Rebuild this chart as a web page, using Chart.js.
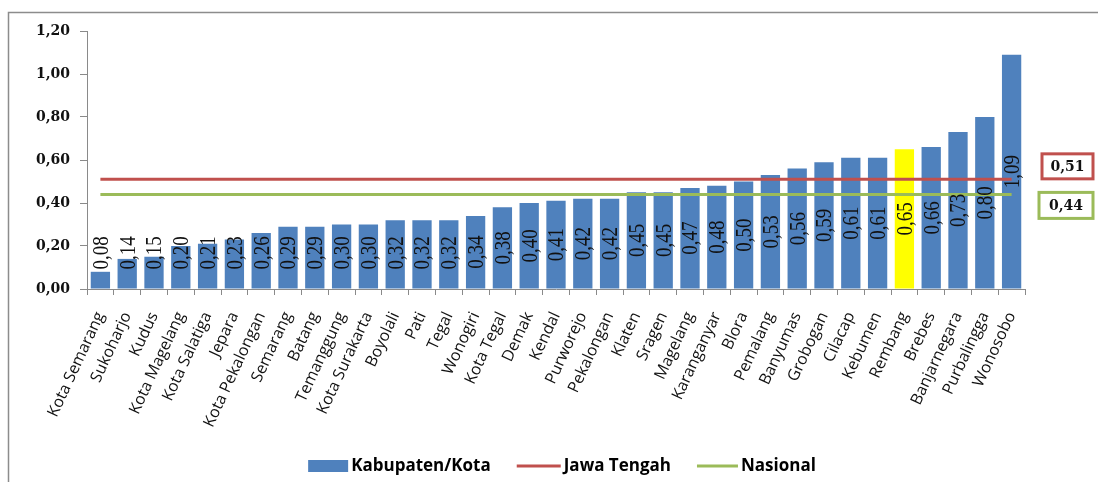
<!DOCTYPE html>
<html>
<head>
<meta charset="utf-8">
<script src="https://cdn.jsdelivr.net/npm/chart.js@4.4.1/dist/chart.umd.min.js"></script>
<style>
  html, body { margin: 0; padding: 0; background: #ffffff; }
  canvas { display: block; }
</style>
</head>
<body>
<canvas id="chart" width="1098" height="482"></canvas>
<script>
// Kabupaten/Kota in Jawa Tengah, sorted by value
const categories = [
  'Kota Semarang', 'Sukoharjo', 'Kudus', 'Kota Magelang', 'Kota Salatiga',
  'Jepara', 'Kota Pekalongan', 'Semarang', 'Batang', 'Temanggung',
  'Kota Surakarta', 'Boyolali', 'Pati', 'Tegal', 'Wonogiri',
  'Kota Tegal', 'Demak', 'Kendal', 'Purworejo', 'Pekalongan',
  'Klaten', 'Sragen', 'Magelang', 'Karanganyar', 'Blora',
  'Pemalang', 'Banyumas', 'Grobogan', 'Cilacap', 'Kebumen',
  'Rembang', 'Brebes', 'Banjarnegara', 'Purbalingga', 'Wonosobo'
];
const kabupatenKota = [
  0.08, 0.14, 0.15, 0.20, 0.21,
  0.23, 0.26, 0.29, 0.29, 0.30,
  0.30, 0.32, 0.32, 0.32, 0.34,
  0.38, 0.40, 0.41, 0.42, 0.42,
  0.45, 0.45, 0.47, 0.48, 0.50,
  0.53, 0.56, 0.59, 0.61, 0.61,
  0.65, 0.66, 0.73, 0.80, 1.09
];
// Provincial and national reference values
const jawaTengah = 0.51;
const nasional = 0.44;
const highlighted = 'Rembang';
const seriesNames = ['Kabupaten/Kota', 'Jawa Tengah', 'Nasional'];
const yTickValues = [0, 0.2, 0.4, 0.6, 0.8, 1.0, 1.2];

const BLUE = '#4F81BD', YELLOW = '#FFFF00', RED = '#C0504D', GREEN = '#9BBB59', AXIS = '#8A8A8A';
const fmt = v => v.toFixed(2).replace('.', ',');

const PLOT_LEFT = 87, PLOT_TOP = 31, PLOT_RIGHT = 1025, PLOT_BOTTOM = 289;

// White page with the frame line along the top and left
const framePlugin = {
  id: 'frame',
  beforeDraw(chart) {
    const ctx = chart.ctx;
    ctx.save();
    ctx.fillStyle = '#ffffff';
    ctx.fillRect(0, 0, chart.width, chart.height);
    ctx.strokeStyle = '#8C8C8C';
    ctx.lineWidth = 1.5;
    ctx.beginPath();
    ctx.moveTo(8.5, chart.height);
    ctx.lineTo(8.5, 12.5);
    ctx.lineTo(chart.width, 12.5);
    ctx.stroke();
    ctx.restore();
  }
};

// Rotated value labels centred in each bar (glyphs drawn slightly widened)
const barLabelPlugin = {
  id: 'barLabels',
  afterDatasetsDraw(chart) {
    const ctx = chart.ctx;
    const meta = chart.getDatasetMeta(0);
    const values = chart.data.datasets[0].data;
    ctx.save();
    ctx.font = '19px "Liberation Serif", serif';
    ctx.fillStyle = '#111111';
    ctx.textAlign = 'center';
    ctx.textBaseline = 'middle';
    meta.data.forEach((bar, i) => {
      const text = fmt(values[i]);
      const w = ctx.measureText(text).width;
      const mid = (bar.y + bar.base) / 2;
      const cy = Math.min(mid, bar.base - 19 - w / 2);
      ctx.save();
      ctx.translate(bar.x, cy);
      ctx.rotate(-Math.PI / 2);
      ctx.scale(1, 1.25);
      ctx.fillText(text, 0, 1);
      ctx.restore();
    });
    ctx.restore();
  }
};

// Boxed value tags for the two reference lines, right of the plot
const refTagPlugin = {
  id: 'refTags',
  afterDraw(chart) {
    const ctx = chart.ctx;
    const y = chart.scales.y;
    const tags = [
      { value: jawaTengah, color: RED, x: 1042, w: 51, h: 25, dy: -13 },
      { value: nasional, color: GREEN, x: 1039, w: 54, h: 26, dy: 11 }
    ];
    ctx.save();
    tags.forEach(t => {
      const cy = y.getPixelForValue(t.value) + t.dy;
      ctx.fillStyle = '#ffffff';
      ctx.fillRect(t.x, cy - t.h / 2, t.w, t.h);
      ctx.strokeStyle = t.color;
      ctx.lineWidth = 3;
      ctx.strokeRect(t.x, cy - t.h / 2, t.w, t.h);
      ctx.fillStyle = '#111111';
      ctx.font = 'bold 14px "DejaVu Serif", serif';
      ctx.textAlign = 'center';
      ctx.textBaseline = 'middle';
      ctx.fillText(fmt(t.value), t.x + t.w / 2, cy + 1);
    });
    ctx.restore();
  }
};

// Legend row at the bottom
const legendPlugin = {
  id: 'bottomLegend',
  afterDraw(chart) {
    const ctx = chart.ctx;
    const ds = chart.data.datasets;
    ctx.save();
    ctx.font = 'bold 17px "Open Sans", sans-serif';
    ctx.textBaseline = 'middle';
    ctx.textAlign = 'left';
    const symW = [40, 44, 41];
    const gapSym = 3, gapItem = 26;
    const widths = ds.map((d, i) => symW[i] + gapSym + ctx.measureText(d.label).width);
    const total = widths.reduce((a, b) => a + b, 0) + gapItem * (ds.length - 1);
    let x = 562 - total / 2;
    const cy = 466;
    ds.forEach((d, i) => {
      if (d.type === 'line') {
        ctx.strokeStyle = d.borderColor;
        ctx.lineWidth = 3;
        ctx.beginPath();
        ctx.moveTo(x, cy);
        ctx.lineTo(x + symW[i], cy);
        ctx.stroke();
      } else {
        ctx.fillStyle = BLUE;
        ctx.fillRect(x, cy - 6, symW[i], 12);
      }
      ctx.fillStyle = '#000000';
      ctx.fillText(d.label, x + symW[i] + gapSym, cy);
      x += widths[i] + gapItem;
    });
    ctx.restore();
  }
};

new Chart(document.getElementById('chart'), {
  data: {
    labels: categories,
    datasets: [
      {
        type: 'bar',
        label: seriesNames[0],
        data: kabupatenKota,
        backgroundColor: categories.map(c => c === highlighted ? YELLOW : BLUE),
        categoryPercentage: 1.0,
        barPercentage: 0.72,
        order: 2
      },
      {
        type: 'line',
        label: seriesNames[1],
        data: categories.map(() => jawaTengah),
        borderColor: RED,
        borderWidth: 3,
        pointRadius: 0,
        fill: false,
        order: 1
      },
      {
        type: 'line',
        label: seriesNames[2],
        data: categories.map(() => nasional),
        borderColor: GREEN,
        borderWidth: 3,
        pointRadius: 0,
        fill: false,
        order: 1
      }
    ]
  },
  options: {
    responsive: false,
    animation: false,
    devicePixelRatio: 1,
    layout: { padding: { left: 0, top: PLOT_TOP, right: 1098 - PLOT_RIGHT, bottom: 0 } },
    plugins: {
      legend: { display: false },
      tooltip: { enabled: false }
    },
    scales: {
      x: {
        offset: true,
        grid: { display: true, drawOnChartArea: false, offset: true, tickLength: 6, color: AXIS },
        border: { display: true, color: AXIS, width: 1 },
        ticks: {
          autoSkip: false,
          maxRotation: 65,
          minRotation: 65,
          padding: 14,
          color: '#111111',
          font: { family: '"Open Sans", sans-serif', size: 16 }
        },
        afterFit(scale) { scale.height = 482 - PLOT_BOTTOM; }
      },
      y: {
        min: 0,
        max: 1.2,
        afterBuildTicks(scale) { scale.ticks = yTickValues.map(v => ({ value: v })); },
        grid: { display: true, drawOnChartArea: false, tickLength: 7, color: AXIS },
        border: { display: true, color: AXIS, width: 1 },
        ticks: {
          padding: 10,
          color: '#111111',
          font: { family: '"DejaVu Serif", serif', size: 14, weight: 'bold' },
          callback: v => fmt(v)
        },
        afterFit(scale) { scale.width = PLOT_LEFT; }
      }
    }
  },
  plugins: [framePlugin, barLabelPlugin, refTagPlugin, legendPlugin]
});
</script>
</body>
</html>
